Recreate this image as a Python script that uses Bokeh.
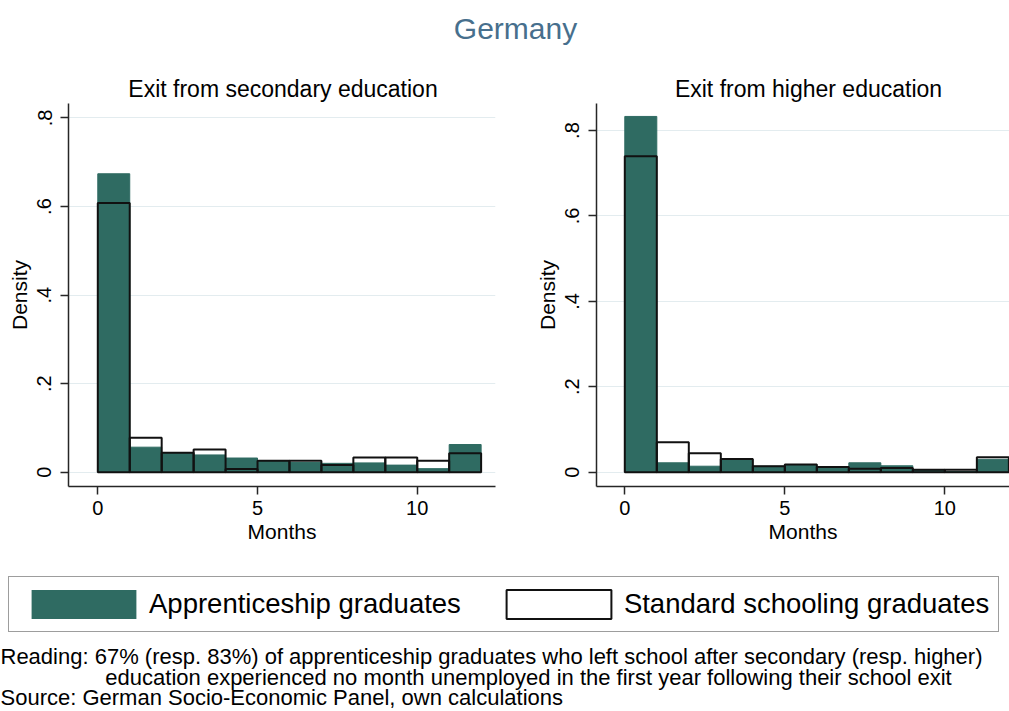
from bokeh.plotting import figure
from bokeh.models import Range1d, FixedTicker, Legend, LegendItem, ColumnDataSource
from bokeh.layouts import column, row
from bokeh.core.properties import value
from bokeh.embed import file_html
from bokeh.resources import INLINE

# ---------------- data ----------------
months = [0, 1, 2, 3, 4, 5, 6, 7, 8, 9, 10, 11]
bin_width = 1
sec_apprentice = [0.674, 0.0565, 0.044, 0.039, 0.032, 0.026, 0.022, 0.020, 0.021, 0.016, 0.008, 0.0625]
sec_standard = [0.608, 0.0776, 0.044, 0.051, 0.0075, 0.026, 0.0256, 0.016, 0.033, 0.033, 0.0256, 0.043]
high_apprentice = [0.833, 0.022, 0.014, 0.031, 0.014, 0.018, 0.012, 0.022, 0.015, 0.006, 0.0015, 0.030]
high_standard = [0.740, 0.070, 0.0445, 0.031, 0.014, 0.018, 0.012, 0.008, 0.010, 0.006, 0.006, 0.035]
y_ticks = [0, 0.2, 0.4, 0.6, 0.8]
y_tick_labels = ["0", ".2", ".4", ".6", ".8"]
x_ticks = [0, 5, 10]
main_title = "Germany"
subtitles = ["Exit from secondary education", "Exit from higher education"]
series_labels = ["Apprenticeship graduates", "Standard schooling graduates"]
x_label = "Months"
y_label = "Density"
notes = [
    "Reading: 67% (resp. 83%) of apprenticeship graduates who left school after secondary (resp. higher)",
    "education experienced no month unemployed in the first year following their school exit",
    "Source: German Socio-Economic Panel, own calculations",
]

FONT = "Liberation Sans"
TEAL = "#2f6b62"
AXIS = "#262626"
TITLE_COLOR = "#476f8d"


def make_panel(app, std, width, xr, yr, left_border, right_border):
    p = figure(width=width, height=450, x_range=Range1d(*xr), y_range=Range1d(*yr),
               output_backend="svg", toolbar_location=None, title=None,
               min_border_left=left_border, min_border_right=right_border,
               min_border_top=0, min_border_bottom=67)
    p.outline_line_color = None
    p.background_fill_color = "white"
    p.border_fill_color = "white"
    src = ColumnDataSource(dict(left=months, right=[m + bin_width for m in months], app=app, std=std))
    p.quad(left="left", right="right", bottom=0, top="app", source=src,
           fill_color=TEAL, line_color=TEAL, line_width=1)
    p.quad(left="left", right="right", bottom=0, top="std", source=src,
           fill_color=None, line_color="#111111", line_width=2)
    p.xaxis.ticker = FixedTicker(ticks=x_ticks)
    p.yaxis.ticker = FixedTicker(ticks=y_ticks)
    p.yaxis.major_label_overrides = {t: l for t, l in zip(y_ticks, y_tick_labels)}
    p.xaxis.axis_label = x_label
    p.yaxis.axis_label = y_label
    for ax in (p.xaxis[0], p.yaxis[0]):
        ax.axis_line_color = AXIS
        ax.axis_line_width = 1.5
        ax.major_tick_line_color = AXIS
        ax.major_tick_line_width = 1.5
        ax.major_tick_in = 0
        ax.major_tick_out = 8
        ax.minor_tick_line_color = None
        ax.major_label_text_font = FONT
        ax.major_label_text_font_size = "20px"
        ax.major_label_text_color = "black"
        ax.axis_label_text_font = FONT
        ax.axis_label_text_font_size = "21px"
        ax.axis_label_text_font_style = "normal"
        ax.axis_label_text_color = "black"
    p.xaxis.major_label_standoff = 6
    p.xaxis.axis_label_standoff = 2
    p.yaxis.major_label_standoff = 9
    p.yaxis.axis_label_standoff = 4
    p.yaxis.major_label_orientation = "parallel"
    p.xgrid.visible = False
    p.ygrid.grid_line_color = "#e3ecef"
    p.ygrid.grid_line_width = 1
    return p


left = make_panel(sec_apprentice, sec_standard, 530, (-0.917, 12.45), (-0.0323, 0.8327), 68, 35)
right = make_panel(high_apprentice, high_standard, 479, (-0.884, 12.02), (-0.0335, 0.8633), 66, 0)

W = 1009

# ---------------- titles strip ----------------
TH = 103
top = figure(width=W, height=TH, x_range=Range1d(0, W), y_range=Range1d(TH, 0),
             output_backend="svg", toolbar_location=None, x_axis_type=None, y_axis_type=None,
             title=None, min_border=0)
top.outline_line_color = None
top.grid.visible = False
top.text(x=[515], y=[28], text=[main_title], text_font=value(FONT), text_font_size="30px",
         text_color=TITLE_COLOR, text_align="center", text_baseline="middle")
top.text(x=[282.5, 808], y=[88, 88], text=subtitles, text_font=value(FONT), text_font_size="23px",
         text_color="black", text_align="center", text_baseline="middle")

# ---------------- legend + notes strip ----------------
BH = 158
bottom = figure(width=W, height=BH, x_range=Range1d(0, W), y_range=Range1d(BH, 0),
                output_backend="svg", toolbar_location=None, x_axis_type=None, y_axis_type=None,
                title=None, min_border=0)
bottom.outline_line_color = None
bottom.grid.visible = False
# key glyph sources (kept outside the visible area; only their legend swatches show)
key_src = ColumnDataSource(dict(l=[-20], r=[-10], b=[-20], t=[-10]))
r_app = bottom.quad(left="l", right="r", bottom="b", top="t", source=key_src,
                    fill_color=TEAL, line_color=None)
r_std = bottom.quad(left="l", right="r", bottom="b", top="t", source=key_src,
                    fill_color="white", line_color="#111111", line_width=2)
legend = Legend(items=[LegendItem(label=series_labels[0], renderers=[r_app]),
                       LegendItem(label=series_labels[1], renderers=[r_std])],
                location=(8, 79), orientation="horizontal",
                glyph_width=131, glyph_height=36, label_standoff=0, spacing=32,
                padding=9, margin=0, label_height=36,
                label_text_font=FONT, label_text_font_size="27.5px", label_text_color="black",
                border_line_color="#3c3c3c", border_line_width=1.5,
                background_fill_color="white", background_fill_alpha=1)
bottom.add_layout(legend, "center")

bottom.text(x=[0, 0], y=[103, 144], text=[notes[0], notes[2]], text_font=value(FONT),
            text_font_size="22px", text_color="black", text_align="left", text_baseline="middle")
bottom.text(x=[528], y=[124], text=[notes[1]], text_font=value(FONT),
            text_font_size="22px", text_color="black", text_align="center", text_baseline="middle")

layout = column(top, row(left, right, spacing=0), bottom, spacing=0)

with open("out.html", "w") as f:
    f.write(file_html(layout, INLINE))
